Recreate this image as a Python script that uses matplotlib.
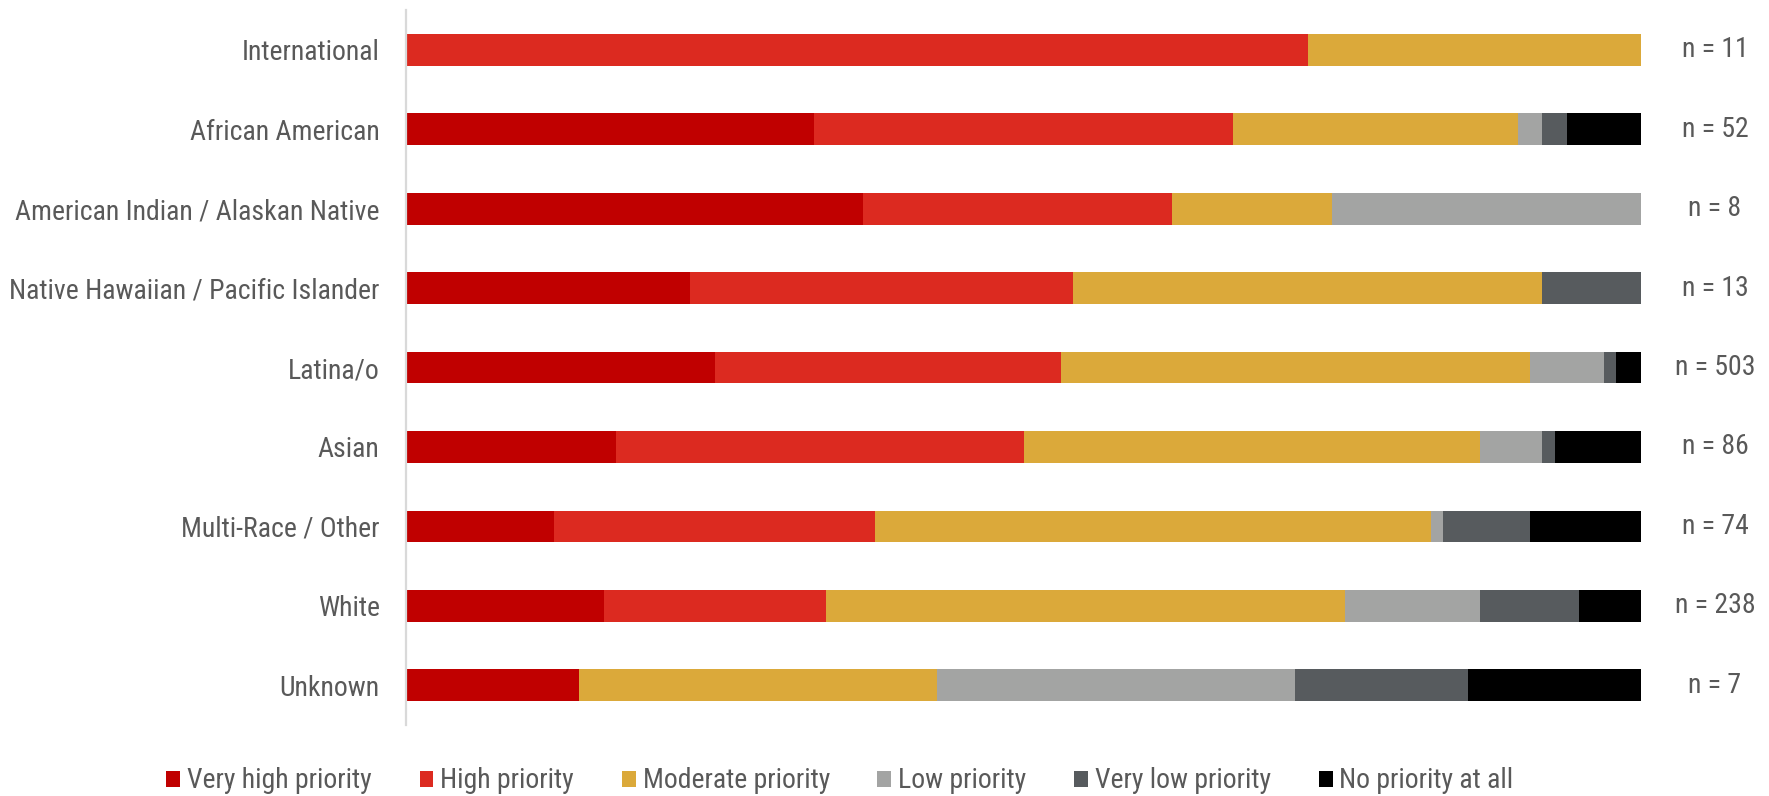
import numpy as np
import matplotlib
matplotlib.use("Agg")
import matplotlib.pyplot as plt
import matplotlib.transforms as mtransforms
from matplotlib.patches import Patch
from matplotlib import font_manager
from matplotlib.font_manager import FontProperties

# Survey responses: share of each group (%) rating the item at each priority level
groups = ["International", "African American", "American Indian / Alaskan Native",
          "Native Hawaiian / Pacific Islander", "Latina/o", "Asian",
          "Multi-Race / Other", "White", "Unknown"]
n_labels = ["n = 11", "n = 52", "n = 8", "n = 13", "n = 503",
            "n = 86", "n = 74", "n = 238", "n = 7"]

very_high = [0, 33, 37, 23, 25, 17, 12, 16, 14]
high      = [73, 34, 25, 31, 28, 33, 26, 18, 0]
moderate  = [27, 23, 13, 38, 38, 37, 45, 42, 29]
low       = [0, 2, 25, 0, 6, 5, 1, 11, 29]
very_low  = [0, 2, 0, 8, 1, 1, 7, 8, 14]
no_prio   = [0, 6, 0, 0, 2, 7, 9, 5, 14]

levels = ["Very high priority", "High priority", "Moderate priority",
          "Low priority", "Very low priority", "No priority at all"]
colors = ["#C00000", "#DC2A20", "#DBA93A", "#A3A4A3", "#575B5E", "#000000"]
series = [very_high, high, moderate, low, very_low, no_prio]


def pick_font():
    """Prefer a narrow/condensed sans face; fall back to Roboto."""
    fonts = [f for f in font_manager.fontManager.ttflist
             if f.style == "normal" and f.weight in (400, "normal", "regular")]
    preferred = ["Liberation Sans Narrow", "Roboto Condensed", "Open Sans Condensed",
                 "Noto Sans", "DejaVu Sans", "Open Sans", "Roboto", "Lato", "Inter"]
    narrow = [f for f in fonts
              if "Narrow" in f.name or "Condensed" in f.name
              or f.stretch in ("condensed", "semi-condensed", "extra-condensed")]
    for name in preferred:
        for f in narrow:
            if f.name == name or f.name.startswith(name):
                return FontProperties(fname=f.fname)
    if narrow:
        return FontProperties(fname=narrow[0].fname)
    return FontProperties(family="Roboto")


base_font = pick_font()
text_color = "#595959"

fig = plt.figure(figsize=(17.69, 7.96), dpi=100)
renderer = fig.canvas.get_renderer()


def fitted_size(text, target_px, ref_size=20):
    t = fig.text(0, 0, text, fontproperties=base_font, fontsize=ref_size)
    w = t.get_window_extent(renderer).width
    t.remove()
    return ref_size * target_px / w


fs = fitted_size("American Indian / Alaskan Native", 364)
fs = min(fs, 22)

ax = fig.add_axes([406 / 1769, 71 / 796, 1235 / 1769, 715 / 796])

y = np.arange(len(groups))
left = np.zeros(len(groups))
for vals, col, name in zip(series, colors, levels):
    vals = np.asarray(vals, dtype=float)
    ax.barh(y, vals, left=left, height=0.4, color=col, edgecolor="none", label=name)
    left += vals

ax.set_xlim(0, 100)
ax.set_ylim(len(groups) - 0.5, -0.5)
ax.set_yticks(y)
ax.set_yticklabels(groups, fontproperties=base_font, fontsize=fs, color=text_color)
ax.tick_params(axis="y", length=0, pad=19)
ax.set_xticks([])
for s in ["top", "right", "bottom"]:
    ax.spines[s].set_visible(False)
ax.spines["left"].set_color("#D9D9D9")
ax.spines["left"].set_linewidth(1.6)

# Sample sizes to the right of each bar
blend = mtransforms.blended_transform_factory(fig.transFigure, ax.transData)
for yi, lab in zip(y, n_labels):
    ax.text(1715 / 1769, yi, lab, transform=blend, ha="center", va="center",
            fontproperties=base_font, fontsize=fs, color=text_color)

handles = [Patch(facecolor=c, edgecolor="none") for c in colors]
leg_font = base_font.copy()
leg_font.set_size(fs)
leg = fig.legend(handles, levels, loc="center", ncol=6,
                 bbox_to_anchor=(840 / 1769, 1 - 781 / 796), frameon=False,
                 prop=leg_font, handlelength=0.5, handleheight=0.5,
                 handletextpad=0.25, columnspacing=1.72, borderpad=0)
for t in leg.get_texts():
    t.set_color(text_color)

fig.savefig("out.png", dpi=100, facecolor="white")
